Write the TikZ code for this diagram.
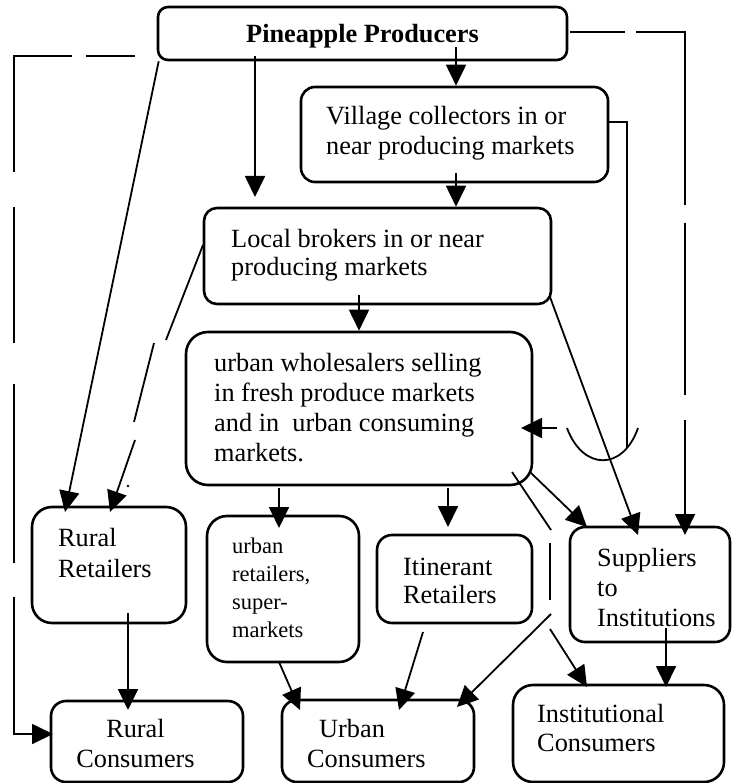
\documentclass[tikz,border=0pt]{standalone}
\usepackage{fontspec}
\setmainfont{Liberation Serif}
\usetikzlibrary{arrows.meta}
\newcommand\myfs[2]{\fontsize{#1}{#2}\selectfont}
\begin{document}
\begin{tikzpicture}[x=1pt,y=-1pt,
  box/.style={draw, line width=2.6pt, rounded corners=#1, inner sep=0pt},
  box/.default=15pt,
  conn/.style={line width=1.8pt},
  arr/.style={conn, -{Triangle[length=21pt,width=20pt]}},
  txt/.style={inner sep=0pt, anchor=base west, align=left},
]
\useasboundingbox[fill=white] (0,0) rectangle (731,783);

% boxes
\node[box=10pt, minimum width=409pt, minimum height=53pt] (prod) at (362.5,33.5) {};
\node[box=14pt, minimum width=307pt, minimum height=95pt] (vill) at (454.5,134.5) {};
\node[box=13pt, minimum width=347pt, minimum height=96pt] (loc) at (377.5,256) {};
\node[box=22pt, minimum width=346pt, minimum height=153pt] (whol) at (359,408.5) {};
\node[box=20pt, minimum width=154pt, minimum height=116pt] (rret) at (109,565) {};
\node[box=20pt, minimum width=152pt, minimum height=146pt] (uret) at (283,589) {};
\node[box=15pt, minimum width=155pt, minimum height=88pt] (itin) at (454.5,579) {};
\node[box=15pt, minimum width=160pt, minimum height=115pt] (supp) at (650,584.5) {};
\node[box=15pt, minimum width=192pt, minimum height=81pt] (rcon) at (147,741.5) {};
\node[box=15pt, minimum width=192pt, minimum height=82pt] (ucon) at (378,741) {};
\node[box=20pt, minimum width=211pt, minimum height=97pt] (icon) at (618.5,733.5) {};

% texts (multi-line nodes: base = baseline of the last line)
\node[inner sep=0pt, anchor=base, font=\bfseries\myfs{26.3}{30}] (tprod) at (362.5,43) {Pineapple Producers};
\node[txt, font=\myfs{26.3}{30}] (tvill) at (326,155) {Village collectors in or\\near producing markets};
\node[txt, font=\myfs{26.3}{28}] (tloc) at (231,275) {Local brokers in or near\\producing markets};
\node[txt, font=\myfs{26.3}{29.7}] (twhol) at (214,461) {urban wholesalers selling\\in fresh produce markets\\and in\ \ urban consuming\\markets.};
\node[txt, font=\myfs{26.3}{31}] (trret) at (58,577) {Rural\\Retailers};
\node[txt, font=\myfs{22.5}{27.7}] (turet) at (232,637) {urban\\retailers,\\super-\\markets};
\node[txt, font=\myfs{26.3}{28}] (titin) at (403,603) {Itinerant\\Retailers};
\node[txt, font=\myfs{26.3}{30}] (tsupp) at (597,626) {Suppliers\\to\\Institutions};
\node[inner sep=0pt, anchor=base, align=center, font=\myfs{26.3}{30}] (trcon) at (135.5,767) {Rural\\Consumers};
\node[txt, font=\myfs{26.3}{30}] (tucon) at (307,767) {\hspace*{12pt}Urban\\Consumers};
\node[txt, font=\myfs{26.3}{29}] (ticon) at (537,751) {Institutional\\Consumers};

% straight arrows
\coordinate (p1) at (456,47);
\draw[arr] (p1) -- (p1 |- vill.north);
\coordinate (v1) at (456,173);
\draw[arr] (v1) -- (v1 |- loc.north);
\coordinate (p2) at (255,56); \coordinate (p2e) at (255,197);
\draw[arr] (p2) -- (p2e);
\coordinate (l1) at (359,295);
\draw[arr] (l1) -- (l1 |- whol.north);
\coordinate (r1) at (65,512);
\draw[arr] (prod.south west) ++(2,0) -- (r1);

% local brokers -> rural retailers (broken)
\coordinate (lb1) at (203,245); \coordinate (lb2) at (166,340);
\coordinate (lb3) at (154,343); \coordinate (lb4) at (134,422);
\coordinate (lb5) at (135,440); \coordinate (lb6) at (110,512);
\draw[conn] (lb1) -- (lb2);
\draw[conn] (lb3) -- (lb4);
\draw[arr] (lb5) -- (lb6);
\fill (128,486) circle (1.3pt);

% left dashed route producers -> rural consumers
\coordinate (d1) at (135,56); \coordinate (d2) at (86,56);
\coordinate (d3) at (72,56); \coordinate (d4) at (14,56);
\coordinate (d5) at (14,172); \coordinate (d6) at (14,207);
\coordinate (d7) at (14,343); \coordinate (d8) at (14,384);
\coordinate (d9) at (14,563); \coordinate (d10) at (14,597);
\coordinate (d11) at (14,734); \coordinate (d12) at (53,734);
\draw[conn] (d1) -- (d2);
\draw[conn] (d3) -- (d4) -- (d5);
\draw[conn] (d6) -- (d7);
\draw[conn] (d8) -- (d9);
\draw[arr] (d10) -- (d11) -- (d12);

% right dashed route producers -> suppliers
\coordinate (e1) at (570,32); \coordinate (e2) at (625,32);
\coordinate (e3) at (636,32); \coordinate (e4) at (685,32);
\coordinate (e5) at (685,205); \coordinate (e6) at (685,223);
\coordinate (e7) at (685,395); \coordinate (e8) at (685,420);
\coordinate (e9) at (685,535);
\draw[conn] (e1) -- (e2);
\draw[conn] (e3) -- (e4) -- (e5);
\draw[conn] (e6) -- (e7);
\draw[arr] (e8) -- (e9);

% village collectors -> wholesalers (with hop)
\coordinate (h1) at (608,122); \coordinate (h2) at (627,122);
\coordinate (h3) at (627,448);
\draw[conn] (h1) -- (h2) -- (h3);
\coordinate (u1) at (638,428); \coordinate (u2) at (567,428);
\draw[conn] (u1) .. controls (623,471) and (583,471) .. (u2);
\coordinate (w1) at (557,428); \coordinate (w2) at (521,428);
\draw[arr] (w1) -- (w2);

% to suppliers
\coordinate (ls1) at (550,297); \coordinate (ls2) at (638,535);
\draw[arr] (ls1) -- (ls2);
\coordinate (ws1) at (530,472); \coordinate (ws2) at (587,527);
\draw[arr] (ws1) -- (ws2);

% wholesalers broken diagonal
\coordinate (g1) at (512,472); \coordinate (g2) at (551,530);
\coordinate (g3) at (550,543); \coordinate (g4) at (550,600);
\coordinate (g5) at (551,614); \coordinate (g6) at (457,707);
\coordinate (g7) at (550,629); \coordinate (g8) at (587,687);
\draw[conn] (g1) -- (g2);
\draw[conn] (g3) -- (g4);
\draw[arr] (g5) -- (g6);
\draw[arr] (g7) -- (g8);

% wholesalers -> retailers
\coordinate (a1) at (279,488); \coordinate (a2) at (279,528);
\draw[arr] (a1) -- (a2);
\coordinate (b1) at (448,488); \coordinate (b2) at (448,527);
\draw[arr] (b1) -- (b2);

% retailers -> consumers
\coordinate (c1) at (128,613); \coordinate (c2) at (128,710);
\draw[arr] (c1) -- (c2);
\coordinate (c3) at (279,662); \coordinate (c4) at (300,710);
\draw[arr] (c3) -- (c4);
\coordinate (c5) at (423,632); \coordinate (c6) at (399,710);
\draw[arr] (c5) -- (c6);
\coordinate (c7) at (666,628); \coordinate (c8) at (666,687);
\draw[arr] (c7) -- (c8);
\end{tikzpicture}
\end{document}
